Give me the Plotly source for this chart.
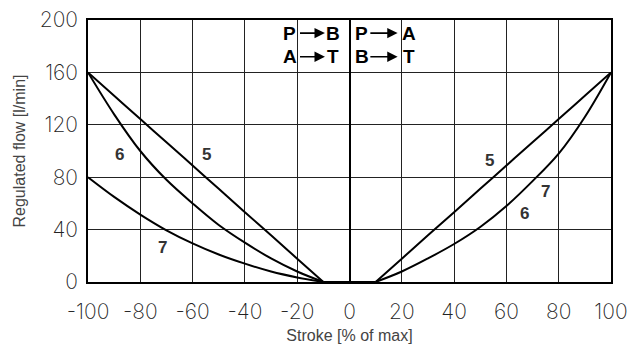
import plotly.graph_objects as go

# ---- data ----
stroke_left = [-100, -90, -80, -70, -60, -50, -40, -30, -20, -10]
flow5_left = [160, 142.2, 124.4, 106.7, 88.9, 71.1, 53.3, 35.6, 17.8, 0]
flow6_left = [160, 128, 100, 78, 60, 43.5, 30, 18, 8, 0]
flow7_left = [80, 65, 51.5, 39.5, 29.5, 21, 14, 8, 3.5, 0]

stroke_mid = [-10, 10]
flow_mid = [0, 0]

stroke_right = [10, 20, 30, 40, 50, 60, 70, 80, 90, 100]
flow5_right = [0, 17.8, 35.6, 53.3, 71.1, 88.9, 106.7, 124.4, 142.2, 160]
flow67_right = [0, 8, 18, 29, 42, 58, 77, 98, 126, 160]

x_ticks = [-100, -80, -60, -40, -20, 0, 20, 40, 60, 80, 100]
y_ticks = [0, 40, 80, 120, 160, 200]

curve_labels = ["5", "6", "7", "5", "7", "6"]
label_x = [-54.5, -88, -71.5, 53.5, 75, 67]
label_y = [97, 97, 26, 93, 69, 52]

fig = go.Figure()
for xs, ys in [(stroke_left, flow5_left), (stroke_left, flow6_left),
               (stroke_left, flow7_left), (stroke_mid, flow_mid),
               (stroke_right, flow5_right), (stroke_right, flow67_right)]:
    fig.add_trace(go.Scatter(x=xs, y=ys, mode="lines",
                             line=dict(color="black", width=2, shape="spline", smoothing=1.0),
                             showlegend=False, hoverinfo="skip"))

for t, lx, ly in zip(curve_labels, label_x, label_y):
    fig.add_annotation(x=lx, y=ly, text=t, showarrow=False,
                       font=dict(family="Liberation Sans, Arial", size=17, color="#333", weight="bold"))

# header flow-path labels
hdr_font = dict(family="Liberation Sans Narrow, Liberation Sans, Arial", size=19, color="black", weight="bold")
rows = [(190, "P", "B", "P", "A"), (172, "A", "T", "B", "T")]
for yy, a, b, c, d in rows:
    fig.add_annotation(x=-22.8, y=yy, text=a, showarrow=False, font=hdr_font)
    fig.add_annotation(x=-6.3, y=yy, text=b, showarrow=False, font=hdr_font)
    fig.add_annotation(x=4.6, y=yy, text=c, showarrow=False, font=hdr_font)
    fig.add_annotation(x=22.6, y=yy, text=d, showarrow=False, font=hdr_font)
    for x0, x1 in [(-19.5, -9.4), (7.4, 18.4)]:
        fig.add_annotation(x=x1, y=yy, ax=x0, ay=yy, xref="x", yref="y", axref="x", ayref="y",
                           text="", showarrow=True, arrowhead=2, arrowsize=1.3,
                           arrowwidth=1.6, arrowcolor="black")

tick_font = dict(family="Inter", size=21, color="#222", weight=200)
fig.update_xaxes(range=[-100, 100], tickvals=x_ticks, ticktext=[str(v) for v in x_ticks],
                 showgrid=True, gridcolor="#222", gridwidth=1.1,
                 zeroline=True, zerolinecolor="black", zerolinewidth=2,
                 showline=True, linecolor="black", linewidth=1.5, mirror=True,
                 tickfont=tick_font, ticklabelstandoff=10, ticklabeloverflow="allow",
                 automargin=False,
                 title=dict(text="Stroke [% of max]", font=dict(family="Liberation Sans, Arial", size=16, color="#444"), standoff=8))
fig.update_yaxes(range=[0, 200], tickvals=y_ticks, ticktext=[str(v) for v in y_ticks],
                 showgrid=True, gridcolor="#222", gridwidth=1.1, zeroline=False,
                 showline=True, linecolor="black", linewidth=1.5, mirror=True,
                 tickfont=tick_font, ticklabelstandoff=4, ticklabeloverflow="allow",
                 automargin=False,
                 title=dict(text="Regulated flow [l/min]", font=dict(family="Liberation Sans, Arial", size=16, color="#444"), standoff=10))

fig.update_layout(width=628, height=344, margin=dict(l=88, r=17, t=20, b=62),
                  plot_bgcolor="white", paper_bgcolor="white")

fig.write_html("out.html", config={"displayModeBar": False},
               post_script="document.body.style.margin='0px';")
